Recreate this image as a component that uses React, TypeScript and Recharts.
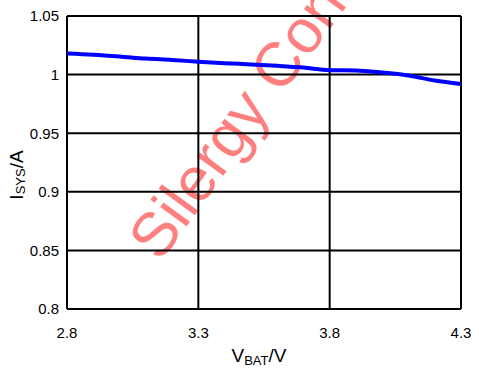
import { CartesianGrid, Line, LineChart, XAxis, YAxis } from 'recharts';

// system current vs battery voltage, sampled every 0.1 V
const vbat = [2.8, 2.9, 3.0, 3.1, 3.2, 3.3, 3.4, 3.5, 3.6, 3.7, 3.8, 3.9, 4.0, 4.1, 4.2, 4.3];
const isys = [
  1.018, 1.017, 1.0155, 1.0137, 1.0125, 1.011, 1.0097, 1.0087, 1.0075, 1.006, 1.0038, 1.0036,
  1.0018, 0.9992, 0.995, 0.992,
];
const xTicks = [2.8, 3.3, 3.8, 4.3];
const yTicks = [0.8, 0.85, 0.9, 0.95, 1, 1.05];

const data = vbat.map((v, i) => ({ v, i: isys[i] }));

const FONT = 'Liberation Sans, Arial, sans-serif';
const W = 479;
const H = 370;

function YLabel() {
  const cx = 16;
  const cy = 175;
  return (
    <text
      x={cx}
      y={cy}
      transform={`rotate(-90, ${cx}, ${cy})`}
      textAnchor="middle"
      dominantBaseline="central"
      fontFamily={FONT}
      fontSize={19}
      fill="#000"
    >
      I
      <tspan fontSize={13} dy={4}>SYS</tspan>
      <tspan dy={-4}>/A</tspan>
    </text>
  );
}

function XLabel() {
  return (
    <text x={259} y={362} textAnchor="middle" fontFamily={FONT} fontSize={19} fill="#000">
      V<tspan fontSize={13} dy={3}>BAT</tspan>
      <tspan dy={-3}>/V</tspan>
    </text>
  );
}

export default function App() {
  return (
    <div style={{ position: 'absolute', left: 0, top: 0, width: W, height: H, background: '#fff' }}>
      {/* watermark sits under the chart so the curve stays on top */}
      <svg width={W} height={H} style={{ position: 'absolute', left: 0, top: 0 }}>
        <text
          x={160}
          y={263}
          transform="rotate(-54, 160, 263)"
          fontFamily={FONT}
          fontSize={62}
          fill="#ff0000"
          fillOpacity={0.5}
        >
          Silergy Confidential
        </text>
      </svg>
      <div style={{ position: 'absolute', left: 0, top: 0 }}>
        <LineChart width={W} height={H} data={data} margin={{ top: 16, right: 18, bottom: 31, left: 0 }}>
          <CartesianGrid stroke="#000" strokeWidth={2} />
          <XAxis
            dataKey="v"
            type="number"
            domain={[2.8, 4.3]}
            ticks={xTicks}
            height={30}
            axisLine={false}
            tickLine={false}
            tick={{ fill: '#000', fontSize: 15, fontFamily: FONT }}
            tickMargin={12}
            label={<XLabel />}
          />
          <YAxis
            type="number"
            domain={[0.8, 1.05]}
            ticks={yTicks}
            width={67}
            axisLine={false}
            tickLine={false}
            tick={{ fill: '#000', fontSize: 15, fontFamily: FONT }}
            tickMargin={2}
            label={<YLabel />}
          />
          <Line
            dataKey="i"
            type="monotone"
            stroke="#0000ff"
            strokeWidth={4}
            dot={false}
            isAnimationActive={false}
          />
        </LineChart>
      </div>
    </div>
  );
}
